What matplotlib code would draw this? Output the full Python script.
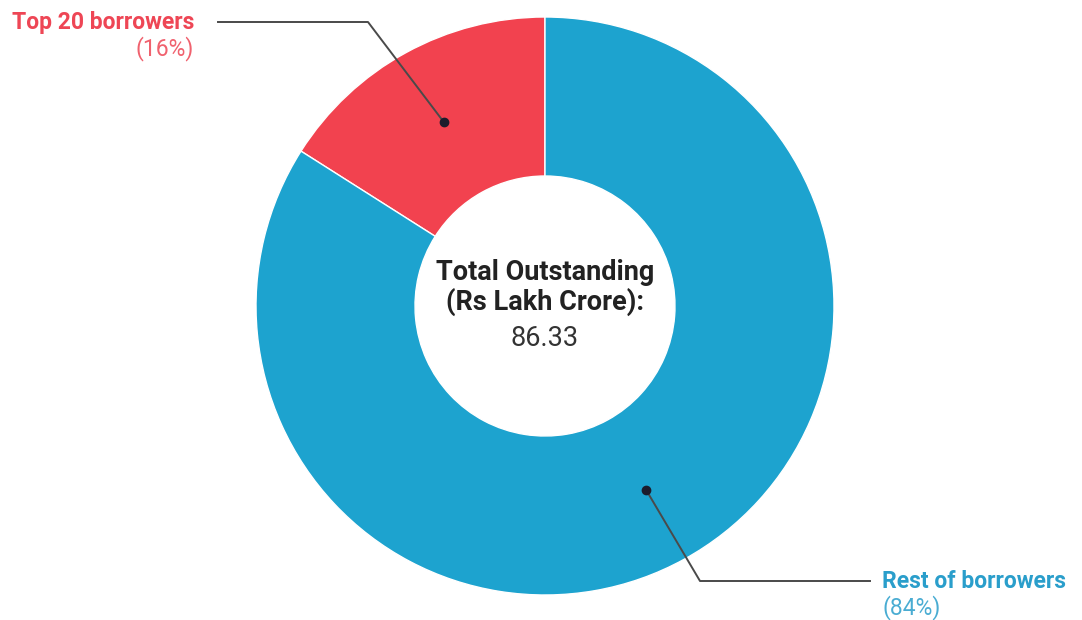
import matplotlib.pyplot as plt
import numpy as np

plt.rcParams['font.family'] = ['Roboto', 'DejaVu Sans']

labels = ['Top 20 borrowers', 'Rest of borrowers']
shares = [16, 84]
total_outstanding = 86.33
colors = ['#F2424F', '#1DA3CF']
text_colors = ['#EE4655', '#2A9ECB']

fig = plt.figure(figsize=(10.82, 6.2), dpi=100)
ax = fig.add_axes([0, 0, 1, 1])

cx, cy, r_out, r_in = 545, 314, 289, 130
wedges, _ = ax.pie(shares, colors=colors, startangle=90, counterclock=True,
                   center=(cx, cy), radius=r_out, frame=True,
                   wedgeprops=dict(width=r_out - r_in, edgecolor='white', linewidth=1))
ax.set_xlim(0, 1082)
ax.set_ylim(0, 620)
ax.set_aspect('equal')
ax.axis('off')

# leader lines: dot at middle of each ring segment, elbow, then horizontal run
elbows = [(368, 598), (700, 39)]
line_ends = [218, 870]
text_pos = [(194, 598, 'right'), (882, 39, 'left')]
r_mid = (r_out + r_in) / 2
for w, lab, pct, tc, (ex, ey), lx, (tx, ty, ha) in zip(
        wedges, labels, shares, text_colors, elbows, line_ends, text_pos):
    ang = np.deg2rad((w.theta1 + w.theta2) / 2)
    dx, dy = cx + r_mid * np.cos(ang), cy + r_mid * np.sin(ang)
    ax.plot([dx, ex, lx], [dy, ey, ey], color='#4a4a4a', lw=1.4, zorder=3)
    ax.plot(dx, dy, 'o', color='#1c1c2c', ms=6, zorder=4)
    ax.text(tx, ty, lab, ha=ha, va='center', fontsize=16.5, fontweight='bold', color=tc)
    ax.text(tx, ty - 27, f'({pct}%)', ha=ha, va='center', fontsize=16.5, color=tc,
            alpha=0.85, fontstretch='expanded')

ax.text(cx, 347, 'Total Outstanding', ha='center', va='center',
        fontsize=19.5, fontweight='bold', color='#222222')
ax.text(cx, 318, '(Rs Lakh Crore):', ha='center', va='center',
        fontsize=19.5, fontweight='bold', color='#222222')
ax.text(cx, 282, f'{total_outstanding:.2f}', ha='center', va='center',
        fontsize=19.5, color='#333333')

fig.savefig('out.png', dpi=100, facecolor='white')
